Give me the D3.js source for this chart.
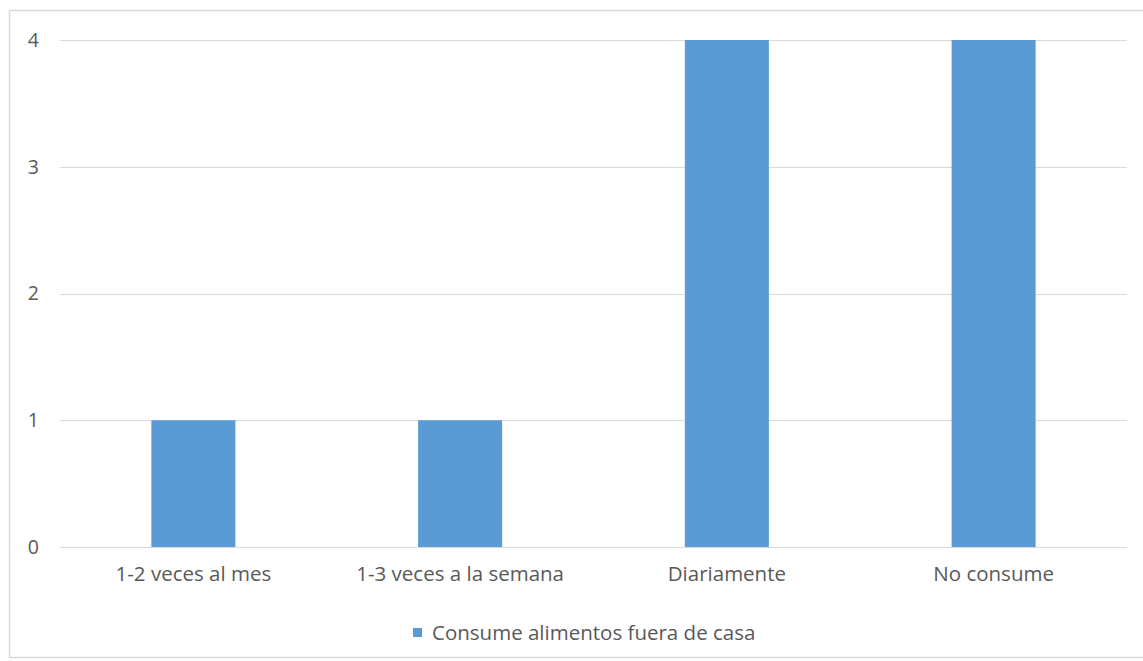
<!DOCTYPE html>
<html>
<head>
<meta charset="utf-8">
<script src="https://cdn.jsdelivr.net/npm/d3@7"></script>
<style>
  html, body { margin: 0; padding: 0; background: #fff; }
  svg text { font-family: "Open Sans", "Liberation Sans", sans-serif; fill: #595959; }
</style>
</head>
<body>
<svg id="chart" width="1143" height="661"></svg>
<script>
// Frequency of eating outside the home
const categories = ["1-2 veces al mes", "1-3 veces a la semana", "Diariamente", "No consume"];
const values = [1, 1, 4, 4];
const yTicks = [0, 1, 2, 3, 4];
const seriesName = "Consume alimentos fuera de casa";

const svg = d3.select("#chart");
const W = 1143, H = 661;
const plot = { left: 60, right: 1127, top: 40, bottom: 547 };
const fontSize = 20.5;

// Outer chart frame
svg.append("rect")
  .attr("x", 9.5).attr("y", 10.5)
  .attr("width", W - 5).attr("height", H - 14)
  .attr("fill", "#fff").attr("stroke", "#d9d9d9").attr("stroke-width", 1.5);

const x = d3.scaleBand()
  .domain(categories)
  .range([plot.left, plot.right])
  .paddingInner(0.685)
  .paddingOuter(0.3425);

const y = d3.scaleLinear()
  .domain([0, 4])
  .range([plot.bottom, plot.top]);

// Horizontal gridlines
svg.append("g")
  .selectAll("line")
  .data(yTicks)
  .join("line")
  .attr("x1", plot.left).attr("x2", plot.right)
  .attr("y1", d => Math.round(y(d)) + 0.5).attr("y2", d => Math.round(y(d)) + 0.5)
  .attr("stroke", "#d9d9d9").attr("stroke-width", 1.2);

// Y-axis labels
const yAxis = d3.axisLeft(y).tickValues(yTicks).tickSize(0).tickPadding(0).tickFormat(d3.format("d"));
svg.append("g")
  .attr("transform", `translate(${39},0)`)
  .call(yAxis)
  .call(g => g.select(".domain").remove())
  .call(g => g.selectAll("text").attr("font-size", 19.5).style("font-family", "'Open Sans', sans-serif").attr("fill", "#595959"));

// Bars
svg.append("g")
  .selectAll("rect")
  .data(values)
  .join("rect")
  .attr("x", (d, i) => x(categories[i]))
  .attr("y", d => y(d))
  .attr("width", x.bandwidth())
  .attr("height", d => y(0) - y(d))
  .attr("fill", "#5b9bd5");

// Category labels
const xAxis = d3.axisBottom(x).tickSize(0).tickPadding(0);
svg.append("g")
  .attr("transform", `translate(0,${plot.bottom + 19})`)
  .call(xAxis)
  .call(g => g.select(".domain").remove())
  .call(g => g.selectAll("text").attr("font-size", fontSize).style("font-family", "'Open Sans', sans-serif").attr("fill", "#595959"));

// Legend
const legend = svg.append("g").attr("transform", "translate(413,628)");
legend.append("rect").attr("width", 9).attr("height", 9).attr("fill", "#5b9bd5");
legend.append("text")
  .attr("x", 19).attr("y", 12)
  .attr("font-size", fontSize)
  .text(seriesName);
</script>
</body>
</html>
